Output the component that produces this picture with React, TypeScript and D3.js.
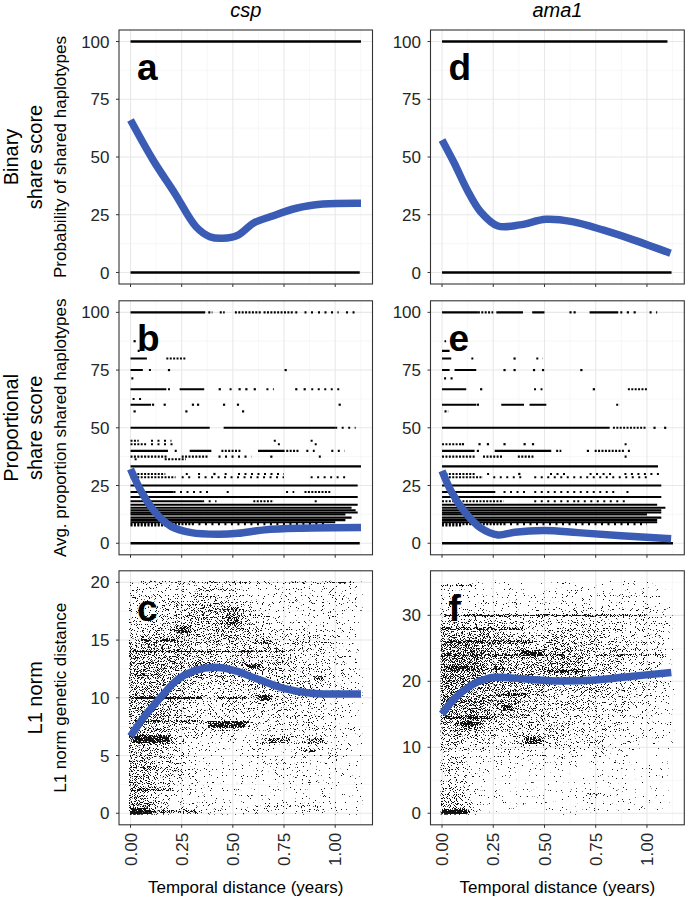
import React from "react";
import * as d3 from "d3";

// ---------- values ----------
const genes = ["csp", "ama1"];
const rowTitles = [["Binary", "share score"], ["Proportional", "share score"], ["L1 norm"]];
const yTitles = [
  "Probability of shared haplotypes",
  "Avg. proportion shared haplotypes",
  "L1 norm genetic distance",
];
const letters = [["a", "d"], ["b", "e"], ["c", "f"]];
const xTitle = "Temporal distance (years)";
const xTicks = [0, 0.25, 0.5, 0.75, 1];
const xTickLabels = ["0.00", "0.25", "0.50", "0.75", "1.00"];
const xMax = 1.126;
const shareTicks = [0, 25, 50, 75, 100];
const l1TicksCsp = [0, 5, 10, 15, 20];
const l1TicksAma1 = [0, 10, 20, 30];
const l1MaxCsp = 20;
const l1MaxAma1 = 35;

// loess fits [x, y]
const smoothA = [[0, 66], [0.11, 48.7], [0.216, 34.3], [0.32, 19.8], [0.387, 15.5], [0.45, 14.8], [0.525, 16.2], [0.6, 21.3], [0.686, 24.2], [0.81, 27.8], [0.94, 29.6], [1.126, 30]];
const smoothD = [[0, 57.4], [0.06, 47.3], [0.123, 35.7], [0.188, 26.3], [0.273, 20.1], [0.38, 20.6], [0.507, 23], [0.635, 22], [0.785, 18.4], [0.934, 14.1], [1.115, 8.3]];
const smoothB = [[0, 32.2], [0.053, 22.4], [0.118, 13.7], [0.2, 7.2], [0.297, 4.6], [0.427, 3.9], [0.525, 4.3], [0.655, 5.8], [0.834, 6.5], [1.126, 6.8]];
const smoothE = [[0, 31.3], [0.045, 22.4], [0.11, 13.7], [0.19, 6.5], [0.273, 3.6], [0.354, 4.8], [0.5, 5.5], [0.663, 4.6], [0.875, 3.3], [1.118, 1.9]];
const smoothC = [[0, 6.67], [0.069, 8.4], [0.15, 10.1], [0.232, 11.6], [0.314, 12.35], [0.41, 12.64], [0.509, 12.35], [0.623, 11.6], [0.753, 10.8], [0.883, 10.4], [0.998, 10.33], [1.126, 10.33]];
const smoothF = [[0, 15.05], [0.061, 17.4], [0.143, 19.4], [0.224, 20.45], [0.289, 20.6], [0.419, 20.3], [0.582, 20.05], [0.745, 20.2], [0.907, 20.7], [1.119, 21.35]];

// runs of points: [y, x0, x1, kind]  kind 2 = solid, 1 = dense dots, 0 = sparse dots
const runsA = [[100, 0, 1.126, 2], [0, 0, 1.12, 2]];
const runsD = [[100, 0, 1.1, 2], [0, 0, 1.12, 2]];
const runsB = [
  [100, 0, 0.365, 2], [100, 0.38, 0.4, 1], [100, 0.436, 0.46, 1], [100, 0.51, 0.64, 1], [100, 0.65, 0.8, 1], [100, 0.805, 0.835, 0], [100, 0.85, 0.9, 0], [100, 0.916, 1.017, 0], [100, 1.053, 1.112, 0],
  [87.5, 0.02, 0.02, 0], [83.3, 0.035, 0.065, 0],
  [80, 0, 0.08, 2], [80, 0.175, 0.27, 1],
  [75, 0, 0.06, 2], [75, 0.09, 0.1, 0], [75, 0.188, 0.188, 0], [75, 0.758, 0.758, 0],
  [71.4, 0.004, 0.02, 1],
  [66.7, 0, 0.175, 2], [66.7, 0.183, 0.21, 0], [66.7, 0.24, 0.36, 2], [66.7, 0.436, 0.436, 0], [66.7, 0.484, 0.5, 0], [66.7, 0.533, 0.533, 0], [66.7, 0.566, 0.566, 0], [66.7, 0.607, 0.607, 0], [66.7, 0.664, 0.7, 0], [66.7, 0.81, 0.81, 0], [66.7, 0.851, 0.851, 0], [66.7, 0.883, 1.02, 0],
  [62.5, 0.01, 0.07, 0],
  [60, 0, 0.1, 2], [60, 0.11, 0.11, 0], [60, 0.167, 0.167, 0], [60, 0.305, 0.305, 0], [60, 0.33, 0.33, 0], [60, 0.457, 0.457, 0], [60, 0.525, 0.525, 0], [60, 1.022, 1.022, 0],
  [57.1, 0.02, 0.02, 0], [57.1, 0.273, 0.273, 0], [57.1, 0.55, 0.55, 0],
  [50, 0, 0.387, 2], [50, 0.455, 1.0, 2], [50, 1.0, 1.1, 0],
  [44.4, 0, 0.04, 1], [44.4, 0.1, 0.2, 0], [44.4, 0.7, 0.72, 0], [44.4, 0.88, 0.9, 0],
  [42.9, 0, 0.08, 1], [42.9, 0.1, 0.22, 0], [42.9, 0.72, 0.74, 0], [42.9, 0.9, 0.93, 0],
  [40, 0, 0.183, 2], [40, 0.216, 0.232, 1], [40, 0.289, 0.395, 2], [40, 0.444, 0.541, 1], [40, 0.623, 0.753, 2], [40, 0.761, 0.826, 1], [40, 0.859, 0.9, 0], [40, 0.981, 1.046, 0],
  [37.5, 0, 0.183, 1], [37.5, 0.25, 0.38, 1], [37.5, 0.43, 0.59, 0], [37.5, 0.688, 0.688, 0], [37.5, 0.92, 0.93, 0],
  [36.4, 0.02, 0.05, 0], [36.4, 0.167, 0.27, 1],
  [33.3, 0, 1.126, 2],
  [30, 0, 0.17, 1], [30, 0.27, 0.29, 0], [30, 0.33, 0.36, 0], [30, 0.41, 0.41, 0], [30, 0.46, 0.48, 0], [30, 0.525, 0.75, 0],
  [28.6, 0, 0.22, 1], [28.6, 0.25, 0.3, 0], [28.6, 0.33, 0.75, 0], [28.6, 0.88, 1.05, 0],
  [25, 0, 1.11, 2],
  [22.2, 0, 0.21, 2], [22.2, 0.21, 0.4, 0], [22.2, 0.47, 0.48, 0], [22.2, 0.76, 0.8, 0], [22.2, 0.85, 0.98, 1],
  [20, 0, 1.11, 2],
  [18.2, 0, 0.35, 2], [18.2, 0.35, 0.42, 0], [18.2, 0.6, 0.7, 1], [18.2, 0.9, 0.91, 0],
  [16.7, 0, 1.11, 2], [15.4, 0, 1.08, 2], [14.3, 0, 1.1, 2], [13.3, 0, 1.11, 2], [12.5, 0, 1.05, 2],
  [11.1, 0, 1.08, 2], [10, 0, 1.05, 2], [9.1, 0, 1.0, 2],
  [8.3, 0, 0.3, 1], [8.3, 0.3, 0.95, 0], [7.7, 0, 0.2, 1],
  [0, 0, 1.12, 2],
];
const runsE = [
  [100, 0, 0.175, 2], [100, 0.175, 0.25, 1], [100, 0.265, 0.395, 2], [100, 0.44, 0.5, 2], [100, 0.627, 0.627, 0], [100, 0.647, 0.647, 0], [100, 0.72, 0.86, 2], [100, 0.87, 0.89, 0], [100, 0.907, 0.907, 0], [100, 0.94, 0.94, 0], [100, 1.013, 1.05, 0],
  [87.5, 0.012, 0.02, 1], [83.3, 0, 0.037, 2],
  [80, 0, 0.045, 2], [80, 0.143, 0.175, 0], [80, 0.354, 0.354, 0], [80, 0.46, 0.493, 0],
  [75, 0, 0.037, 2], [75, 0.061, 0.167, 2], [75, 0.305, 0.305, 0], [75, 0.354, 0.354, 0], [75, 0.449, 0.449, 0], [75, 0.493, 0.493, 0], [75, 0.68, 0.68, 0],
  [71.4, 0.01, 0.06, 0],
  [66.7, 0, 0.118, 2], [66.7, 0.191, 0.191, 0], [66.7, 0.449, 0.49, 0], [66.7, 0.741, 0.741, 0], [66.7, 0.907, 1.0, 1],
  [60, 0, 0.167, 2], [60, 0.175, 0.175, 0], [60, 0.289, 0.4, 2], [60, 0.427, 0.509, 2], [60, 0.85, 0.867, 1],
  [57.1, 0.012, 0.03, 1],
  [50, 0, 0.818, 2], [50, 0.834, 1.0, 1], [50, 1.037, 1.037, 0], [50, 1.089, 1.089, 0],
  [42.9, 0, 0.094, 1], [42.9, 0.102, 0.102, 0], [42.9, 0.183, 0.183, 0], [42.9, 0.224, 0.224, 0], [42.9, 0.305, 0.305, 0], [42.9, 0.403, 0.403, 0], [42.9, 0.444, 0.444, 0], [42.9, 0.891, 0.923, 0],
  [40, 0, 0.159, 2], [40, 0.175, 0.175, 0], [40, 0.257, 0.533, 2], [40, 0.557, 0.582, 1], [40, 0.712, 0.712, 0], [40, 0.745, 0.891, 1], [40, 0.907, 0.932, 0],
  [37.5, 0, 0.159, 1], [37.5, 0.2, 0.297, 1], [37.5, 0.37, 0.452, 1], [37.5, 0.891, 0.907, 0],
  [33.3, 0, 1.054, 2],
  [30, 0, 0.165, 1], [30, 0.22, 0.25, 0], [30, 0.377, 0.38, 0], [30, 0.527, 0.614, 0], [30, 0.72, 0.828, 0], [30, 0.89, 1.06, 0],
  [28.6, 0, 0.2, 1], [28.6, 0.25, 0.4, 0], [28.6, 0.45, 1.0, 0],
  [25, 0, 1.07, 2],
  [22.2, 0, 0.26, 2], [22.2, 0.3, 0.42, 0], [22.2, 0.45, 0.85, 0], [22.2, 0.9, 0.93, 0],
  [20, 0, 1.07, 2],
  [18.2, 0, 0.3, 1], [18.2, 0.45, 0.65, 0], [18.2, 0.66, 0.9, 0],
  [16.7, 0, 1.05, 2], [15.4, 0, 1.09, 2], [14.3, 0, 1.07, 2], [13.3, 0, 1.07, 2], [12.5, 0, 1.0, 2],
  [11.1, 0, 1.07, 2], [10, 0, 1.05, 2], [9.1, 0, 1.05, 2],
  [8.3, 0, 0.3, 1], [8.3, 0.3, 1.0, 0], [7.7, 0, 0.1, 1],
  [0, 0, 1.127, 2],
];

// point density (0-9) per cell, x bins of 0.1 yr, rows from the top down
const densC = [ // y bins of 1, top row 19-20
  "333332222221", "333443222221", "334554222221", "345555322221", "445454333321",
  "555444444321", "555544443321", "555545443321", "555444444321", "555333444321",
  "554333433321", "554333333321", "554344333321", "653222333221", "543211222221",
  "543211222211", "543211222211", "542211121111", "532211111111", "642222222211",
];
const densF = [ // y bins of 2, top row 34-36
  "211111111110", "221112222210", "222222222221", "444333333331", "555434443331",
  "665545544331", "665555544331", "665555544331", "655554444331", "665544433321",
  "665543333221", "564444333221", "433344332221", "322222222110", "422111111110",
  "321111111110", "421111112110", "531111111110",
];
// dark streaks: [y, x0, x1, darkness, half-height in y units]
const streaksC = [
  [20, 0, 1.1, 0.3, 0.08], [14, 0, 0.62, 0.75, 0.08], [14, 0.62, 0.78, 0.45, 0.08],
  [15, 0.04, 0.09, 0.8, 0.1], [15, 0.14, 0.22, 0.8, 0.1], [10, 0, 0.35, 0.8, 0.1],
  [10, 0.42, 0.58, 0.55, 0.1], [10, 0.62, 0.69, 0.7, 0.25], [8, 0, 0.35, 0.6, 0.1],
  [7.7, 0.38, 0.57, 0.75, 0.3], [6.4, 0.01, 0.2, 0.7, 0.35], [6.3, 0.65, 0.78, 0.5, 0.25],
  [6.3, 0.85, 0.95, 0.5, 0.25], [5.4, 0.85, 0.91, 0.75, 0.1], [12.75, 0.56, 0.64, 0.7, 0.2],
  [15.9, 0.22, 0.3, 0.65, 0.3], [17, 0.46, 0.54, 0.45, 0.9], [11.7, 0.89, 0.95, 0.6, 0.2],
  [14.8, 0.63, 0.7, 0.55, 0.2], [0.2, 0, 0.085, 0.9, 0.3], [0.1, 0.085, 0.35, 0.45, 0.15],
  [2, 0, 0.2, 0.5, 0.1], [0.6, 0.6, 0.95, 0.4, 0.1], [4, 0, 0.15, 0.45, 0.1],
  [13, 0, 0.12, 0.5, 0.1], [12, 0, 0.2, 0.45, 0.1], [18, 0.15, 0.4, 0.4, 0.1],
];
const streaksF = [
  [34.5, 0, 0.17, 0.5, 0.15], [30, 0, 1.0, 0.65, 0.15], [28, 0, 0.4, 0.5, 0.2],
  [26, 0, 0.45, 0.6, 0.25], [24, 0, 0.6, 0.6, 0.2], [24, 0.75, 1.1, 0.45, 0.15],
  [22, 0, 0.16, 0.7, 0.35], [22, 0.24, 0.3, 0.65, 0.3], [21.5, 0.5, 0.7, 0.55, 0.3],
  [24.4, 0.38, 0.5, 0.65, 0.3], [18, 0.26, 0.42, 0.6, 0.25], [16, 0.28, 0.35, 0.7, 0.4],
  [14.5, 0, 0.25, 0.6, 0.2], [13.5, 0.09, 0.18, 0.7, 0.4], [11, 0.4, 0.5, 0.65, 0.5],
  [0.2, 0, 0.13, 0.9, 0.4], [3, 0.7, 0.8, 0.45, 0.15], [20, 0, 0.3, 0.5, 0.15], [17, 0, 0.5, 0.45, 0.1],
];
// share of pixels covered by dots at each density level
const coverage = [0, 0.08, 0.15, 0.23, 0.32, 0.41, 0.5, 0.58, 0.66, 0.74];

// ---------- layout ----------
const W = 685;
const H = 898;
const colX = [119, 430.5];
const colW = [253.5, 253.8];
const rowY = [30, 300.8, 570.8];
const panelH = 254;
const FONT = "'Liberation Sans', Arial, Helvetica, sans-serif";
const BLUE = "#3b5cb5";
const INK = "#262626";

type Cfg = {
  row: number;
  col: number;
  yDomain: [number, number];
  yTicks: number[];
  runs?: number[][];
  dens?: string[];
  binH?: number;
  yTopData?: number;
  streaks?: number[][];
  smooth: number[][];
};

const panels: Cfg[] = [
  { row: 0, col: 0, yDomain: [-5, 105], yTicks: shareTicks, runs: runsA, smooth: smoothA },
  { row: 0, col: 1, yDomain: [-5, 105], yTicks: shareTicks, runs: runsD, smooth: smoothD },
  { row: 1, col: 0, yDomain: [-5, 105], yTicks: shareTicks, runs: runsB, smooth: smoothB },
  { row: 1, col: 1, yDomain: [-5, 105], yTicks: shareTicks, runs: runsE, smooth: smoothE },
  { row: 2, col: 0, yDomain: [-0.05 * l1MaxCsp, 1.05 * l1MaxCsp], yTicks: l1TicksCsp, dens: densC, binH: 1, yTopData: l1MaxCsp, streaks: streaksC, smooth: smoothC },
  { row: 2, col: 1, yDomain: [-0.05 * l1MaxAma1, 1.05 * l1MaxAma1], yTicks: l1TicksAma1, dens: densF, binH: 2, yTopData: l1MaxAma1, streaks: streaksF, smooth: smoothF },
];

function Speckle({ id, blur, seed }: { id: string; blur: string; seed: number }) {
  // turns a density (alpha) image into scattered single-pixel dots
  return (
    <filter id={id} filterUnits="userSpaceOnUse" x={0} y={0} width={W} height={H} colorInterpolationFilters="sRGB">
      <feGaussianBlur in="SourceAlpha" stdDeviation={blur} result="dens" />
      <feTurbulence type="fractalNoise" baseFrequency="1.15" numOctaves={1} seed={seed} result="noise" />
      <feColorMatrix in="noise" type="matrix" values="0 0 0 0 0  0 0 0 0 0  0 0 0 0 0  2.2 0 0 0 -0.6" result="thr" />
      <feComposite in="dens" in2="thr" operator="arithmetic" k1={0} k2={1} k3={-1} k4={-0.01} result="diff" />
      <feComponentTransfer in="diff" result="mask">
        <feFuncA type="linear" slope={18} intercept={0} />
      </feComponentTransfer>
      <feFlood floodColor="#111" result="ink" />
      <feComposite in="ink" in2="mask" operator="in" />
    </filter>
  );
}

function Panel({ cfg }: { cfg: Cfg }) {
  const left = colX[cfg.col];
  const w = colW[cfg.col];
  const top = rowY[cfg.row];
  const x = d3.scaleLinear().domain([-0.05 * xMax, 1.05 * xMax]).range([left, left + w]);
  const y = d3.scaleLinear().domain(cfg.yDomain).range([top + panelH, top]);
  const step = cfg.yTicks[1] - cfg.yTicks[0];
  const yMinor = cfg.yTicks.map((t) => t + step / 2).filter((t) => t < cfg.yDomain[1]);
  const xMinor = xTicks.map((t) => t + 0.125).filter((t) => t < 1.05 * xMax);
  const line = d3.line<number[]>().x((d) => x(d[0])).y((d) => y(d[1])).curve(d3.curveCatmullRom.alpha(0.5));
  const clipId = `clip-${cfg.row}-${cfg.col}`;
  const dataClip = `dclip-${cfg.row}-${cfg.col}`;

  const cells: React.ReactNode[] = [];
  if (cfg.dens && cfg.binH && cfg.yTopData !== undefined) {
    const nRows = cfg.dens.length;
    const topBin = cfg.binH * nRows;
    cfg.dens.forEach((rowStr, i) => {
      let y1 = topBin - i * cfg.binH!;
      let y0 = y1 - cfg.binH!;
      if (i === 0) y1 += cfg.binH!;
      if (i === nRows - 1) y0 -= cfg.binH!;
      rowStr.split("").forEach((ch, j) => {
        let x0 = j * 0.1;
        let x1 = (j + 1) * 0.1;
        if (j === 0) x0 -= 0.06;
        if (j === rowStr.length - 1) x1 = xMax + 0.06;
        cells.push(
          <rect key={`${i}-${j}`} x={x(x0)} y={y(y1)} width={x(x1) - x(x0)} height={y(y0) - y(y1)}
            fill="#000" fillOpacity={coverage[+ch]} />
        );
      });
    });
  }

  return (
    <g>
      <defs>
        <clipPath id={clipId}>
          <rect x={left} y={top} width={w} height={panelH} />
        </clipPath>
        {cfg.yTopData !== undefined && (
          <clipPath id={dataClip}>
            <rect x={x(0) - 1.5} y={y(cfg.yTopData) - 1.5} width={x(xMax) - x(0) + 3} height={y(0) - y(cfg.yTopData) + 3} />
          </clipPath>
        )}
      </defs>
      <rect x={left} y={top} width={w} height={panelH} fill="#fff" />
      {/* grid */}
      {yMinor.map((t) => (
        <line key={`ym${t}`} x1={left} x2={left + w} y1={y(t)} y2={y(t)} stroke="#f2f2f2" strokeWidth={0.6} />
      ))}
      {xMinor.map((t) => (
        <line key={`xm${t}`} y1={top} y2={top + panelH} x1={x(t)} x2={x(t)} stroke="#f2f2f2" strokeWidth={0.6} />
      ))}
      {cfg.yTicks.map((t) => (
        <line key={`yg${t}`} x1={left} x2={left + w} y1={y(t)} y2={y(t)} stroke="#e8e8e8" strokeWidth={1.1} />
      ))}
      {xTicks.map((t) => (
        <line key={`xg${t}`} y1={top} y2={top + panelH} x1={x(t)} x2={x(t)} stroke="#e8e8e8" strokeWidth={1.1} />
      ))}
      <g clipPath={`url(#${clipId})`}>
        {cfg.runs &&
          cfg.runs.map((r, i) => {
            const px0 = x(r[1]);
            const px1 = x(r[2]);
            const py = y(r[0]);
            if (px1 - px0 < 1) {
              return <rect key={i} x={px0 - 1.1} y={py - 1.1} width={2.2} height={2.2} fill="#000" />;
            }
            return (
              <line key={i} x1={px0} x2={px1} y1={py} y2={py} stroke="#000" strokeWidth={r[0] === 100 || r[0] === 0 ? 2.4 : 2.1}
                strokeDasharray={r[3] === 2 ? undefined : r[3] === 1 ? "2 1.4" : "2 4.5"} />
            );
          })}
        {cfg.dens && (
          <g clipPath={`url(#${dataClip})`}>
            <g filter="url(#spkCells)">{cells}</g>
            <g filter="url(#spkStreaks)">
              {cfg.streaks!.map((s, i) => {
                const a = y(s[0] + s[4]);
                const b = y(s[0] - s[4]);
                const hh = Math.max(1.6, b - a);
                const mid = (a + b) / 2;
                return (
                  <rect key={i} x={x(s[1])} y={mid - hh / 2} width={Math.max(2, x(s[2]) - x(s[1]))} height={hh}
                    fill="#000" fillOpacity={s[3]} />
                );
              })}
            </g>
          </g>
        )}
        <path d={line(cfg.smooth) || ""} fill="none" stroke={BLUE} strokeWidth={7.5} strokeLinecap="butt" strokeLinejoin="round" />
        <text x={left + 18} y={top + 50} fontSize={37} fontWeight="bold" fill="#000">
          {letters[cfg.row][cfg.col]}
        </text>
      </g>
      <rect x={left} y={top} width={w} height={panelH} fill="none" stroke="#333" strokeWidth={1.1} />
      {/* y axis */}
      {cfg.yTicks.map((t) => (
        <g key={`yt${t}`}>
          <line x1={left - 3} x2={left} y1={y(t)} y2={y(t)} stroke="#333" strokeWidth={1} />
          <text x={left - 9.5} y={y(t)} dy="0.36em" textAnchor="end" fontSize={17} fill={INK}>
            {t}
          </text>
        </g>
      ))}
      {/* x axis */}
      {xTicks.map((t, i) => (
        <g key={`xt${t}`}>
          <line x1={x(t)} x2={x(t)} y1={top + panelH} y2={top + panelH + 3} stroke="#333" strokeWidth={1} />
          {cfg.row === 2 && (
            <text transform={`translate(${x(t)},${top + panelH + 8}) rotate(-90)`} dy="0.36em" textAnchor="end" fontSize={17} fill={INK}>
              {xTickLabels[i]}
            </text>
          )}
        </g>
      ))}
    </g>
  );
}

export default function App() {
  return (
    <svg width={W} height={H} viewBox={`0 0 ${W} ${H}`} style={{ position: "absolute", left: 0, top: 0 }} fontFamily={FONT}>
      <defs>
        <Speckle id="spkCells" blur="5" seed={7} />
        <Speckle id="spkStreaks" blur="2.5 0.6" seed={23} />
      </defs>
      <rect width={W} height={H} fill="#fff" />
      {genes.map((g, ci) => (
        <text key={g} x={colX[ci] + colW[ci] / 2} y={17} fontSize={20} fontStyle="italic" textAnchor="middle" fill="#000">
          {g}
        </text>
      ))}
      {rowTitles.map((lines, ri) => {
        const cy = rowY[ri] + panelH / 2;
        const xs = lines.length === 2 ? [17.5, 41.5] : [41.5];
        return lines.map((t, li) => (
          <text key={`${ri}-${li}`} transform={`translate(${xs[li]},${cy}) rotate(-90)`} textAnchor="middle" fontSize={20} fill="#000">
            {t}
          </text>
        ));
      })}
      {yTitles.map((t, ri) => (
        <text key={t} transform={`translate(65.5,${rowY[ri] + panelH / 2}) rotate(-90)`} textAnchor="middle" fontSize={17} fill="#000">
          {t}
        </text>
      ))}
      {panels.map((p) => (
        <Panel key={`${p.row}-${p.col}`} cfg={p} />
      ))}
      {genes.map((g, ci) => (
        <text key={`xt${g}`} x={colX[ci] + colW[ci] / 2} y={893} fontSize={17} textAnchor="middle" fill="#000">
          {xTitle}
        </text>
      ))}
    </svg>
  );
}
